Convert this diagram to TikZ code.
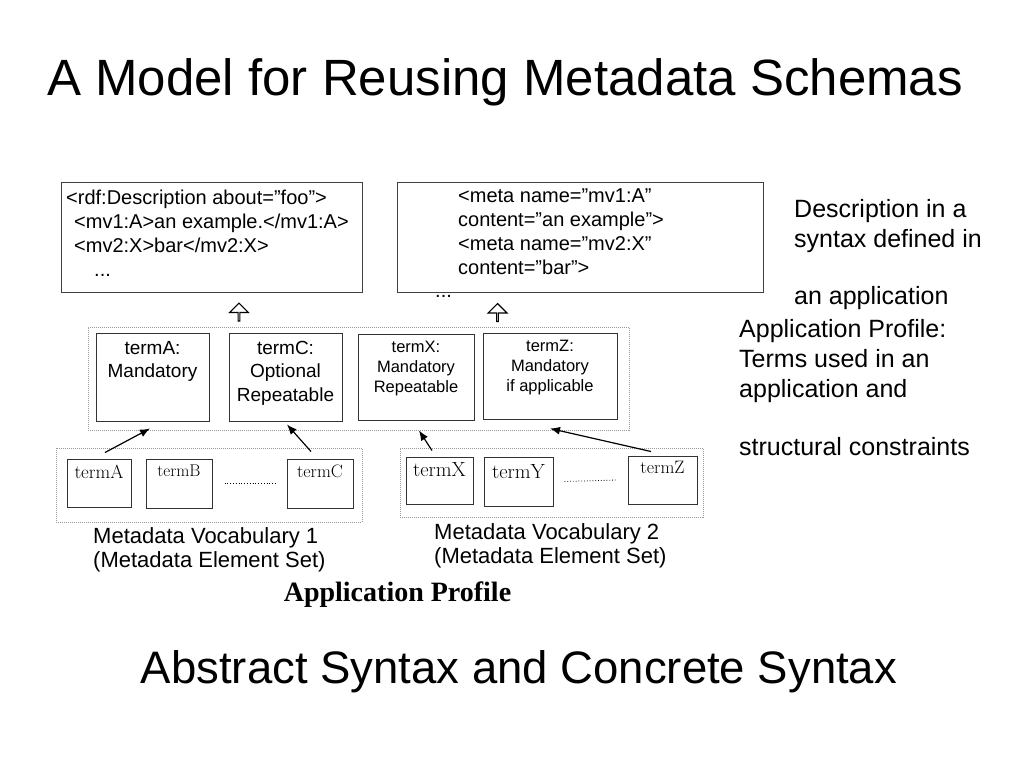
\documentclass[tikz,border=0pt]{standalone}
\usepackage{fontspec}
\setsansfont{Liberation Sans}
\newfontfamily\timesfont{Liberation Serif}
\renewcommand{\familydefault}{\sfdefault}
\usetikzlibrary{arrows.meta,shapes.arrows}

\begin{document}
\begin{tikzpicture}[x=1pt, y=-1pt]
    \tikzstyle{codebox} = [draw=black!75, line width=1pt, inner sep=0pt]
    \tikzstyle{codetext} = [anchor=north west, inner sep=0pt, align=left, font=\fontsize{20}{24}\selectfont]
    \tikzstyle{group} = [draw=black!40, line width=0.7pt, dash pattern=on 1pt off 1pt, inner sep=0pt]
    \tikzstyle{apterm} = [draw=black!80, line width=1pt, inner sep=0pt]
    \tikzstyle{apbig} = [anchor=north, inner sep=0pt, align=center, font=\fontsize{19}{23.5}\selectfont]
    \tikzstyle{apsmall} = [anchor=north, inner sep=0pt, align=center, font=\fontsize{16.5}{20}\selectfont]
    \tikzstyle{vocterm} = [draw=black!80, line width=1pt, inner sep=0pt]
    \tikzstyle{voctext} = [anchor=base, inner sep=0pt]
    \tikzstyle{uparrow} = [single arrow, draw=black, line width=1.1pt, shape border rotate=90, minimum width=19pt, minimum height=18pt, single arrow head extend=5pt, inner sep=0pt]
    \tikzstyle{ref} = [-{Latex[length=10pt,width=8pt]}, line width=1.2pt]
    \tikzstyle{sidetext} = [anchor=north west, inner sep=0pt, align=left, font=\fontsize{25}{30}\selectfont]
    \tikzstyle{voclabel} = [anchor=base west, inner sep=0pt, align=left, font=\fontsize{22}{24}\selectfont]

    \useasboundingbox (0,0) rectangle (1024,768);

    % Titles
    \node [anchor=base west, inner sep=0pt, font=\fontsize{51}{60}\selectfont] (title) at (47,95) {A Model for Reusing Metadata Schemas};
    \node [anchor=base, inner sep=0pt, font=\fontsize{45.5}{54}\selectfont] (syntax) at (519,683) {Abstract Syntax and Concrete Syntax};

    % Concrete syntax
    \node [codebox, minimum width=301pt, minimum height=110pt] (rdf) at (211.5,237) {};
    \node [codetext] (rdftext) at (66,190) {<rdf:Description about=”foo”>\\\hspace*{8pt}<mv1:A>an example.</mv1:A>\\\hspace*{8pt}<mv2:X>bar</mv2:X>\\\hspace*{28pt}...};
    \node [codebox, minimum width=366pt, minimum height=110pt] (meta) at (580,237) {};
    \node [codetext] (metatext) at (458,189) {<meta name=”mv1:A”\\content=”an example”>\\<meta name=”mv2:X”\\content=”bar”>};
    \node [anchor=base west, inner sep=0pt, font=\fontsize{20}{24}\selectfont] (metadots) at (435,297) {...};

    \node [uparrow] (uprdf) at (239,312.5) {};
    \node [uparrow] (upmeta) at (497.5,313) {};

    % Application profile
    \node [group, minimum width=541pt, minimum height=103pt] (ap) at (358.5,378.5) {};
    \node [apterm, minimum width=113pt, minimum height=88pt] (apA) at (152.5,377) {};
    \node [apbig] (apAtext) at (152.5,341) {termA:\\Mandatory};
    \node [apterm, minimum width=113pt, minimum height=88pt] (apC) at (285.5,377) {};
    \node [apbig] (apCtext) at (285.5,341) {termC:\\Optional\\Repeatable};
    \node [apterm, minimum width=116pt, minimum height=86pt] (apX) at (416,377) {};
    \node [apsmall] (apXtext) at (416,341) {termX:\\Mandatory\\Repeatable};
    \node [apterm, minimum width=134pt, minimum height=86pt] (apZ) at (550,376) {};
    \node [apsmall] (apZtext) at (550,340) {termZ:\\Mandatory\\if applicable};

    % Metadata vocabularies
    \node [group, minimum width=306pt, minimum height=74pt] (voc1) at (209,485) {};
    \node [vocterm, minimum width=64pt, minimum height=48pt] (vocA) at (99,483) {};
    \node [voctext, font=\rmfamily\fontsize{19}{22}\selectfont] (vocAtext) at (99,478) {termA};
    \node [vocterm, minimum width=66pt, minimum height=49pt] (vocB) at (179,483.5) {};
    \node [voctext, font=\rmfamily\fontsize{17}{20}\selectfont] (vocBtext) at (179,476) {termB};
    \node [vocterm, minimum width=66pt, minimum height=49pt] (vocC) at (320,483.5) {};
    \node [voctext, font=\rmfamily\fontsize{18}{21}\selectfont] (vocCtext) at (320,477) {termC};
    \draw [dotted, line width=0.8pt] ([xshift=12pt]vocB.east) -- ([xshift=-10pt]vocC.west);

    \node [group, minimum width=303pt, minimum height=69pt] (voc2) at (551.5,482.5) {};
    \node [vocterm, minimum width=67pt, minimum height=47pt] (vocX) at (439.5,480.5) {};
    \node [voctext, font=\rmfamily\fontsize{20.5}{24}\selectfont] (vocXtext) at (439.5,476) {termX};
    \node [vocterm, minimum width=69pt, minimum height=49pt] (vocY) at (518.5,481.5) {};
    \node [voctext, font=\rmfamily\fontsize{20.5}{24}\selectfont] (vocYtext) at (518.5,478) {termY};
    \node [vocterm, minimum width=69pt, minimum height=48pt] (vocZ) at (662.5,480) {};
    \node [voctext, font=\rmfamily\fontsize{18}{21}\selectfont] (vocZtext) at (662.5,473) {termZ};
    \draw [dotted, line width=0.8pt] ([xshift=11pt]vocY.east) -- ([xshift=-11pt]vocZ.west);

    \node [voclabel] (voc1label) at (93,567) {Metadata Vocabulary 1\\(Metadata Element Set)};
    \node [voclabel] (voc2label) at (434,563) {Metadata Vocabulary 2\\(Metadata Element Set)};
    \node [anchor=base, inner sep=0pt, font={\timesfont\bfseries\fontsize{28}{32}\selectfont}] (aplabel) at (397.5,601) {Application Profile};

    % Terms taken into the profile
    \draw [ref] ([shift={(6,-6)}]vocA.north) -- ([shift={(-2.5,7)}]apA.south);
    \draw [ref] ([shift={(-9,-7)}]vocC.north) -- ([shift={(1.5,3)}]apC.south);
    \draw [ref] ([shift={(-7.5,-6)}]vocX.north) -- ([shift={(3,10)}]apX.south);
    \draw [ref] ([shift={(-11.5,-4)}]vocZ.north) -- ([shift={(0,9)}]apZ.south);

    % Side notes
    \node [sidetext] (desc) at (794,199) {Description in a\\syntax defined in\\[27pt]an application};
    \node [sidetext] (profile) at (739,319) {Application Profile:\\Terms used in an\\application and\\[28pt]structural constraints};
\end{tikzpicture}
\end{document}
